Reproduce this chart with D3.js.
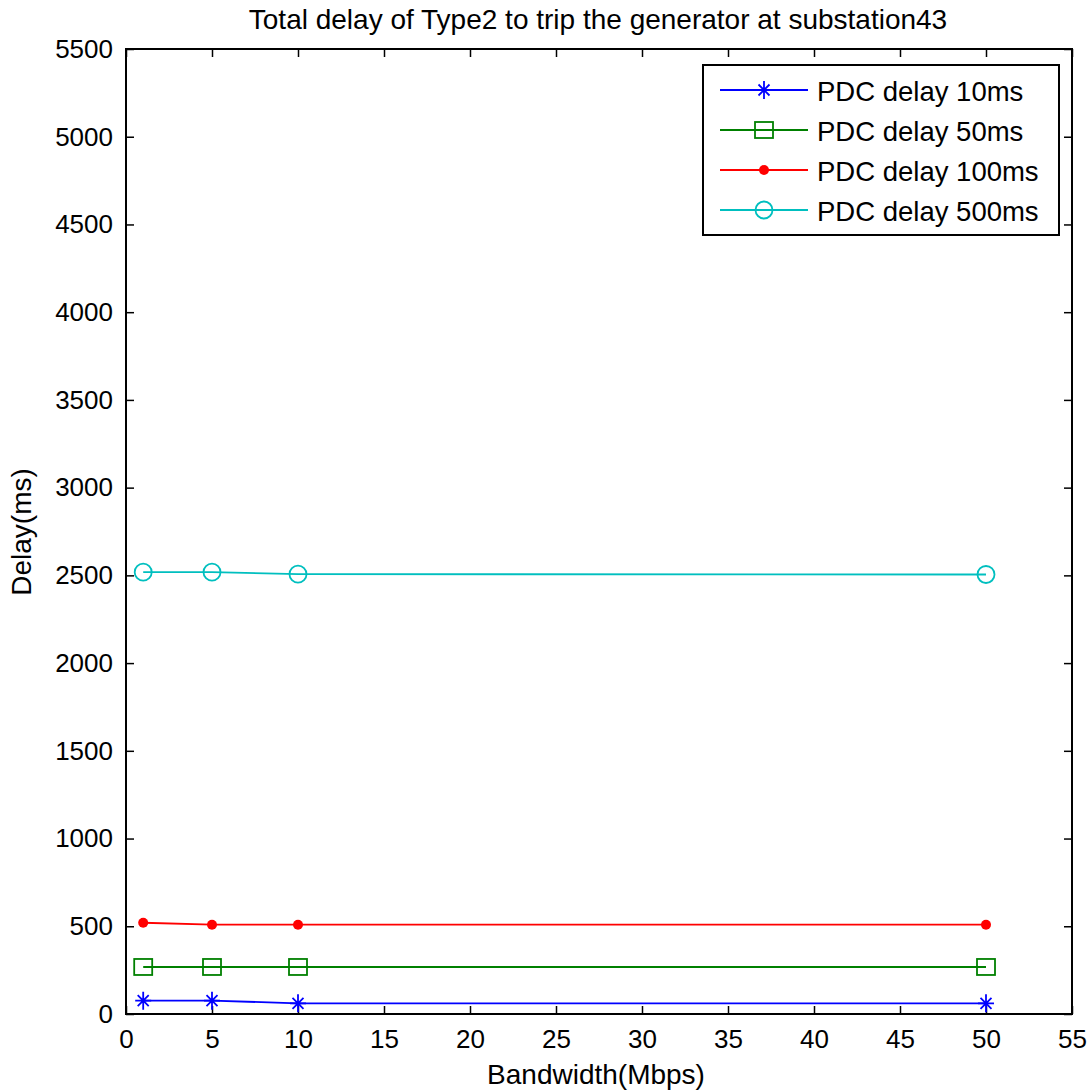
<!DOCTYPE html>
<html>
<head>
<meta charset="utf-8">
<script src="https://cdn.jsdelivr.net/npm/d3@7"></script>
<style>
  body { margin: 0; background: #fff; }
  text { font-family: "Liberation Sans", Arial, sans-serif; }
</style>
</head>
<body>
<svg id="chart" width="1088" height="1092"></svg>
<script>
var bandwidth = [1, 5, 10, 50];
var delay10 = [76, 76, 61, 61];
var delay50 = [268, 268, 268, 268];
var delay100 = [520, 509, 509, 509];
var delay500 = [2518, 2518, 2507, 2505];
var seriesNames = ["PDC delay 10ms", "PDC delay 50ms", "PDC delay 100ms", "PDC delay 500ms"];
var seriesColors = ["#0000ff", "#008000", "#ff0000", "#00bfbf"];
var seriesMarkers = ["star", "square", "dot", "circle"];
var xTicks = d3.range(0, 56, 5);
var yTicks = d3.range(0, 5501, 500);

var LEFT = 126, RIGHT = 1072, TOP = 49, BOTTOM = 1014;
var FONT = "28px";
var svg = d3.select("#chart");

var x = d3.scaleLinear().domain([0, 55]).range([LEFT, RIGHT]);
var y = d3.scaleLinear().domain([0, 5500]).range([BOTTOM, TOP]);

// axes with inward ticks on all four sides
svg.append("g").attr("class", "ax").attr("transform", "translate(0," + BOTTOM + ")")
   .call(d3.axisBottom(x).tickValues(xTicks).tickFormat(d3.format("d"))
           .tickSizeInner(-8).tickSizeOuter(0).tickPadding(16));
svg.append("g").attr("class", "ax").attr("transform", "translate(0," + TOP + ")")
   .call(d3.axisTop(x).tickValues(xTicks).tickSizeInner(-8).tickSizeOuter(0).tickFormat(""));
svg.append("g").attr("class", "ax").attr("transform", "translate(" + LEFT + ",0)")
   .call(d3.axisLeft(y).tickValues(yTicks).tickFormat(d3.format("d"))
           .tickSizeInner(-8).tickSizeOuter(0).tickPadding(13));
svg.append("g").attr("class", "ax").attr("transform", "translate(" + RIGHT + ",0)")
   .call(d3.axisRight(y).tickValues(yTicks).tickSizeInner(-8).tickSizeOuter(0).tickFormat(""));

svg.selectAll(".ax").attr("font-size", null).attr("font-family", null);
svg.selectAll(".ax path").remove();
svg.selectAll(".ax line").attr("stroke", "#000").attr("stroke-width", 1.5);
svg.selectAll(".ax text").style("font-size", "26px").attr("fill", "#000");

svg.append("rect")
   .attr("x", LEFT).attr("y", TOP)
   .attr("width", RIGHT - LEFT).attr("height", BOTTOM - TOP)
   .attr("fill", "none").attr("stroke", "#000").attr("stroke-width", 2);

function drawMarker(g, kind, cx, cy, color)
{
  if (kind == "star")
  {
    var r = 8;
    g.append("path")
     .attr("d", "M" + (cx - r) + "," + cy + "H" + (cx + r) +
                "M" + cx + "," + (cy - r - 1) + "V" + (cy + r + 1) +
                "M" + (cx - 5.5) + "," + (cy - 5.5) + "L" + (cx + 5.5) + "," + (cy + 5.5) +
                "M" + (cx - 5.5) + "," + (cy + 5.5) + "L" + (cx + 5.5) + "," + (cy - 5.5))
     .attr("stroke", color).attr("stroke-width", 1.8).attr("fill", "none");
  }
  else if (kind == "square")
  {
    g.append("rect").attr("x", cx - 9).attr("y", cy - 8).attr("width", 18).attr("height", 16)
     .attr("stroke", color).attr("stroke-width", 1.8).attr("fill", "none");
  }
  else if (kind == "dot")
  {
    g.append("circle").attr("cx", cx).attr("cy", cy).attr("r", 5).attr("fill", color);
  }
  else
  {
    g.append("circle").attr("cx", cx).attr("cy", cy).attr("r", 8.5)
     .attr("stroke", color).attr("stroke-width", 1.8).attr("fill", "none");
  }
}

var allSeries = [delay10, delay50, delay100, delay500];
var line = d3.line().x(function(d, i) { return x(bandwidth[i]); }).y(function(d) { return y(d); });

for (var s = 0; s < allSeries.length; s++)
{
  var g = svg.append("g");
  g.append("path").datum(allSeries[s]).attr("d", line)
   .attr("fill", "none").attr("stroke", seriesColors[s]).attr("stroke-width", 1.8);
  for (var i = 0; i < bandwidth.length; i++)
  {
    drawMarker(g, seriesMarkers[s], x(bandwidth[i]), y(allSeries[s][i]), seriesColors[s]);
  }
}

// Legend
var legend = svg.append("g");
legend.append("rect").attr("x", 703).attr("y", 65).attr("width", 356).attr("height", 170)
      .attr("fill", "#fff").attr("stroke", "#000").attr("stroke-width", 2);
for (var k = 0; k < seriesNames.length; k++)
{
  var ly = 90 + k * 40;
  legend.append("line").attr("x1", 720).attr("x2", 808).attr("y1", ly).attr("y2", ly)
        .attr("stroke", seriesColors[k]).attr("stroke-width", 1.8);
  drawMarker(legend, seriesMarkers[k], 764, ly, seriesColors[k]);
  legend.append("text").attr("x", 817).attr("y", ly + 11).text(seriesNames[k])
        .attr("font-size", "27.5px").attr("fill", "#000");
}

// Titles
svg.append("text").attr("x", 598).attr("y", 29).attr("text-anchor", "middle")
   .attr("font-size", "28px").text("Total delay of Type2 to trip the generator at substation43");
svg.append("text").attr("x", 596).attr("y", 1084).attr("text-anchor", "middle")
   .attr("font-size", FONT).text("Bandwidth(Mbps)");
svg.append("text").attr("transform", "translate(31,532) rotate(-90)").attr("text-anchor", "middle")
   .attr("font-size", FONT).text("Delay(ms)");
</script>
</body>
</html>
